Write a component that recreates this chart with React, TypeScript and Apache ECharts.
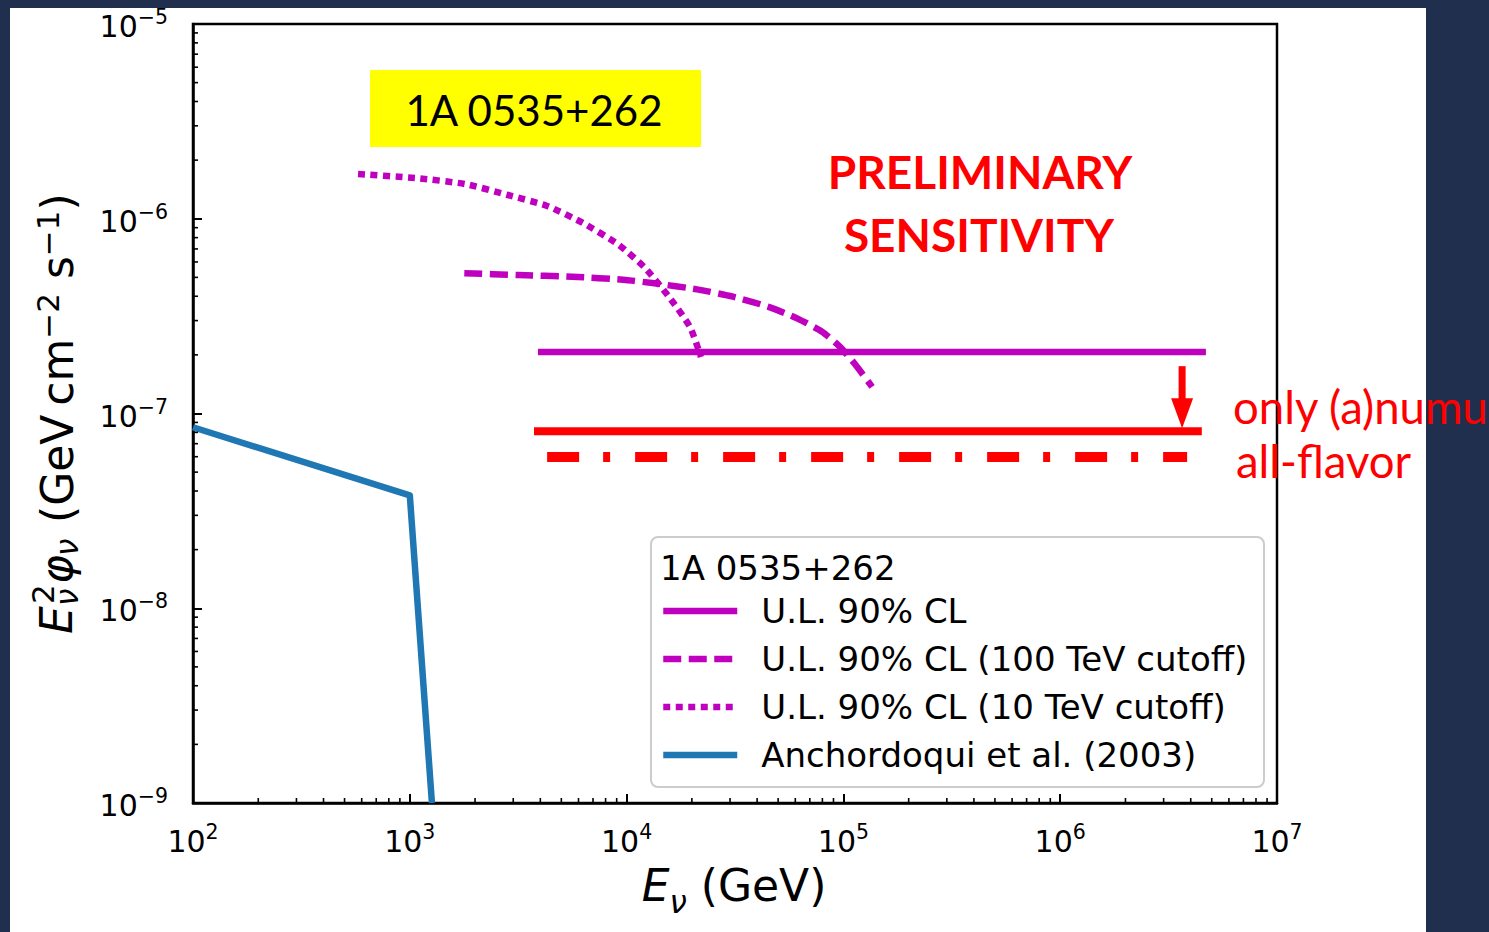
import React, { useEffect, useRef } from "react";
import * as echarts from "echarts";

// Axis ranges (GeV on x, GeV cm^-2 s^-1 on y)
const energyMin = 1e2;
const energyMax = 1e7;
const fluxMin = 1e-9;
const fluxMax = 1e-5;

// U.L. 90% CL, flat E^-2 spectrum
const ulEnergy = [3.9e3, 4.7e6];
const ulFlux = [2.07e-7, 2.07e-7];

// U.L. 90% CL with a 100 TeV cutoff
const cut100Energy = [1784, 3176, 5607, 9906, 13420, 21150, 30930, 45190, 61150, 79720, 96450, 112300, 135640];
const cut100Flux = [5.25e-7, 5.14e-7, 5.04e-7, 4.85e-7, 4.66e-7, 4.34e-7, 3.98e-7, 3.53e-7, 3.08e-7, 2.63e-7, 2.2e-7, 1.81e-7, 1.37e-7];

// U.L. 90% CL with a 10 TeV cutoff
const cut10Energy = [577, 1057, 1798, 2838, 4295, 6293, 9224, 12160, 15690, 19610, 22030];
const cut10Flux = [1.697e-6, 1.619e-6, 1.508e-6, 1.324e-6, 1.163e-6, 9.51e-7, 7.33e-7, 5.59e-7, 3.97e-7, 2.78e-7, 1.95e-7];

// Anchordoqui et al. (2003) model
const anchEnergy = [100, 1000, 1265];
const anchFlux = [8.5e-8, 3.8e-8, 1e-9];

// Preliminary sensitivities
const numuEnergy = [3.74e3, 4.5e6];
const numuFlux = [8.1e-8, 8.1e-8];
const allFlavorEnergy = [4.3e3, 3.85e6];
const allFlavorFlux = [5.98e-8, 5.98e-8];

// Arrow from the U.L. down to the numu sensitivity
const arrowEnergy = [3.65e6];
const arrowFrom = [1.75e-7];
const arrowTo = [8.4e-8];

// Decade tick exponents
const xExponents = [2, 3, 4, 5, 6, 7];
const yExponents = [-9, -8, -7, -6, -5];
const minorMantissas = [2, 3, 4, 5, 6, 7, 8, 9];

const legendNames = [
  "U.L. 90% CL",
  "U.L. 90% CL (100 TeV cutoff)",
  "U.L. 90% CL (10 TeV cutoff)",
  "Anchordoqui et al. (2003)",
];

const MAGENTA = "#bf00bf";
const BLUE = "#1f77b4";
const RED = "#ff0000";
const NAVY = "#212f4e";
const MPL_FONT = "DejaVu Sans";
const SLIDE_FONT = "Lato";

const pairs = (xs: number[], ys: number[]) => xs.map((x, i) => [x, ys[i]]);

const minorX: number[][] = [];
xExponents.slice(0, -1).forEach((e) =>
  minorMantissas.forEach((m) => minorX.push([m * Math.pow(10, e), fluxMin]))
);
const minorY: number[][] = [];
yExponents.slice(0, -1).forEach((e) =>
  minorMantissas.forEach((m) => minorY.push([energyMin, m * Math.pow(10, e)]))
);

const powerLabel = (v: number) => {
  const e = Math.round(Math.log10(v));
  const s = e < 0 ? "\u2212" + -e : String(e);
  return `{b|10}{s|${s}}`;
};

const tickRich = {
  b: { fontFamily: MPL_FONT, fontSize: 30, color: "#000", verticalAlign: "bottom" },
  s: { fontFamily: MPL_FONT, fontSize: 20.5, color: "#000", verticalAlign: "bottom", padding: [0, 0, 14, 0] },
};

const lineSeries = (name: string, data: number[][], color: string, width: number, type: any, z = 2, smooth: number | boolean = false) => ({
  name,
  type: "line",
  data,
  symbol: "none",
  showSymbol: false,
  smooth,
  clip: true,
  z,
  lineStyle: { color, width, type, cap: "butt", join: "round" },
  itemStyle: { color },
  silent: true,
});

function buildOption() {
  return {
    animation: false,
    backgroundColor: NAVY,
    grid: {
      left: 193,
      top: 24,
      width: 1084,
      height: 779,
      show: true,
      borderColor: "#000",
      borderWidth: 2.5,
      backgroundColor: "transparent",
    },
    xAxis: {
      type: "log",
      logBase: 10,
      min: energyMin,
      max: energyMax,
      interval: 1,
      axisLine: { show: true, lineStyle: { color: "#000", width: 2.5 } },
      axisTick: { show: true, inside: true, length: 9, lineStyle: { color: "#000", width: 2 } },
      splitLine: { show: false },
      axisLabel: { formatter: powerLabel, rich: tickRich, margin: 18, showMinLabel: true, showMaxLabel: true },
    },
    yAxis: {
      type: "log",
      logBase: 10,
      min: fluxMin,
      max: fluxMax,
      interval: 1,
      axisLine: { show: true, lineStyle: { color: "#000", width: 2.5 } },
      axisTick: { show: true, inside: true, length: 9, lineStyle: { color: "#000", width: 2 } },
      splitLine: { show: false },
      axisLabel: { formatter: powerLabel, rich: tickRich, margin: 25, showMinLabel: true, showMaxLabel: true },
    },
    legend: {
      orient: "vertical",
      left: 655,
      top: 587,
      itemWidth: 74,
      itemHeight: 14,
      itemGap: 10,
      selectedMode: false,
      data: legendNames,
      lineStyle: { width: "inherit" },
      itemStyle: { opacity: 0, borderWidth: 0 },
      textStyle: { fontFamily: MPL_FONT, fontSize: 34, color: "#000", lineHeight: 38, padding: [0, 0, 0, 19] },
    },
    series: [
      lineSeries(legendNames[0], pairs(ulEnergy, ulFlux), MAGENTA, 6.5, "solid"),
      lineSeries(legendNames[1], pairs(cut100Energy, cut100Flux), MAGENTA, 6.5, [18, 7.5], 2, 0.2),
      lineSeries(legendNames[2], pairs(cut10Energy, cut10Flux), MAGENTA, 6.5, [7, 5.5], 2, 0.2),
      lineSeries(legendNames[3], pairs(anchEnergy, anchFlux), BLUE, 6.5, "solid"),
      lineSeries("only (a)numu", pairs(numuEnergy, numuFlux), RED, 8, "solid", 3),
      lineSeries("all-flavor", pairs(allFlavorEnergy, allFlavorFlux), RED, 10, [32, 24, 7, 25], 3),
      {
        name: "arrow",
        type: "custom",
        silent: true,
        clip: false,
        z: 4,
        data: arrowEnergy.map((e, i) => [e, arrowFrom[i], arrowTo[i]]),
        encode: { x: 0, y: [1, 2] },
        renderItem: (_p: any, api: any) => {
          const top = api.coord([api.value(0), api.value(1)]);
          const tip = api.coord([api.value(0), api.value(2)]);
          const head = 30;
          return {
            type: "group",
            children: [
              {
                type: "line",
                shape: { x1: top[0], y1: top[1], x2: tip[0], y2: tip[1] - head + 2 },
                style: { stroke: RED, lineWidth: 7 },
              },
              {
                type: "polygon",
                shape: { points: [[tip[0] - 11, tip[1] - head], [tip[0] + 11, tip[1] - head], [tip[0], tip[1]]] },
                style: { fill: RED },
              },
            ],
          };
        },
      },
      {
        name: "minorX",
        type: "custom",
        silent: true,
        clip: false,
        z: 5,
        data: minorX,
        renderItem: (_p: any, api: any) => {
          const p = api.coord([api.value(0), api.value(1)]);
          return { type: "line", shape: { x1: p[0], y1: p[1], x2: p[0], y2: p[1] - 5 }, style: { stroke: "#000", lineWidth: 1.6 } };
        },
      },
      {
        name: "minorY",
        type: "custom",
        silent: true,
        clip: false,
        z: 5,
        data: minorY,
        renderItem: (_p: any, api: any) => {
          const p = api.coord([api.value(0), api.value(1)]);
          return { type: "line", shape: { x1: p[0], y1: p[1], x2: p[0] + 5, y2: p[1] }, style: { stroke: "#000", lineWidth: 1.6 } };
        },
      },
    ],
    graphic: {
      elements: [
        // white slide panel
        { type: "rect", z: -10, silent: true, shape: { x: 10, y: 8, width: 1416, height: 930 }, style: { fill: "#fff" } },
        // legend frame and title
        {
          type: "rect",
          z: 3,
          silent: true,
          shape: { x: 651, y: 537, width: 613, height: 250, r: 7 },
          style: { fill: "rgba(255,255,255,0.8)", stroke: "#cccccc", lineWidth: 2 },
        },
        {
          type: "text",
          z: 6,
          x: 660,
          y: 568,
          style: { text: "1A 0535+262", fontFamily: MPL_FONT, fontSize: 34, fill: "#000", align: "left", verticalAlign: "middle" },
        },
        // source name box
        { type: "rect", z: 6, silent: true, shape: { x: 370, y: 70, width: 331, height: 77 }, style: { fill: "#ffff00" } },
        {
          type: "text",
          z: 7,
          x: 534,
          y: 110,
          style: { text: "1A 0535+262", fontFamily: SLIDE_FONT, fontSize: 42, fill: "#000", align: "center", verticalAlign: "middle" },
        },
        {
          type: "text",
          z: 7,
          x: 980,
          y: 171,
          style: { text: "PRELIMINARY", fontFamily: SLIDE_FONT, fontWeight: "bold", fontSize: 46, fill: RED, align: "center", verticalAlign: "middle" },
        },
        {
          type: "text",
          z: 7,
          x: 979,
          y: 234,
          style: { text: "SENSITIVITY", fontFamily: SLIDE_FONT, fontWeight: "bold", fontSize: 46, fill: RED, align: "center", verticalAlign: "middle" },
        },
        {
          type: "text",
          z: 7,
          x: 1233,
          y: 406,
          style: { text: "only (a)numu", fontFamily: SLIDE_FONT, fontSize: 45.5, fill: RED, align: "left", verticalAlign: "middle" },
        },
        {
          type: "text",
          z: 7,
          x: 1236,
          y: 460,
          style: { text: "all-flavor", fontFamily: SLIDE_FONT, fontSize: 45.5, fill: RED, align: "left", verticalAlign: "middle" },
        },
        // x axis title
        {
          type: "text",
          z: 7,
          x: 734,
          y: 890,
          style: {
            text: "{e|E}{n|\u03bd}{t| (GeV)}",
            align: "center",
            verticalAlign: "middle",
            rich: {
              e: { fontFamily: MPL_FONT, fontStyle: "italic", fontSize: 44, fill: "#000", verticalAlign: "bottom", padding: [0, 0, 10, 0] },
              n: { fontFamily: MPL_FONT, fontStyle: "italic", fontSize: 31, fill: "#000", verticalAlign: "bottom" },
              t: { fontFamily: MPL_FONT, fontSize: 44, fill: "#000", verticalAlign: "bottom", padding: [0, 0, 10, 0] },
            },
          },
        },
        // y axis title, reading bottom to top
        {
          type: "group",
          z: 7,
          x: 56,
          y: 634,
          rotation: Math.PI / 2,
          children: [
            { type: "text", x: 0, y: 0, style: { text: "E", fontFamily: MPL_FONT, fontStyle: "italic", fontSize: 44, fill: "#000", align: "left", verticalAlign: "middle" } },
            { type: "text", x: 30, y: -13, style: { text: "2", fontFamily: MPL_FONT, fontSize: 31, fill: "#000", align: "left", verticalAlign: "middle" } },
            { type: "text", x: 28, y: 11, style: { text: "\u03bd", fontFamily: MPL_FONT, fontStyle: "italic", fontSize: 31, fill: "#000", align: "left", verticalAlign: "middle" } },
            { type: "text", x: 50, y: 0, style: { text: "\u03c6", fontFamily: MPL_FONT, fontStyle: "italic", fontSize: 44, fill: "#000", align: "left", verticalAlign: "middle" } },
            { type: "text", x: 78, y: 11, style: { text: "\u03bd", fontFamily: MPL_FONT, fontStyle: "italic", fontSize: 31, fill: "#000", align: "left", verticalAlign: "middle" } },
            {
              type: "text",
              x: 97,
              y: 0,
              style: {
                text: "{t| (GeV\u2009cm}{s|\u22122}{t| s}{s|\u22121}{t|)}",
                align: "left",
                verticalAlign: "middle",
                rich: {
                  t: { fontFamily: MPL_FONT, fontSize: 44, fill: "#000", verticalAlign: "bottom" },
                  s: { fontFamily: MPL_FONT, fontSize: 31, fill: "#000", verticalAlign: "bottom", padding: [0, 0, 16, 0] },
                },
              },
            },
          ],
        },
      ],
    },
  };
}

export default function App() {
  const ref = useRef<HTMLDivElement>(null);
  useEffect(() => {
    if (!ref.current) return;
    const chart = echarts.init(ref.current, undefined, { renderer: "svg" });
    chart.setOption(buildOption() as any);
    return () => chart.dispose();
  }, []);
  return <div ref={ref} style={{ position: "fixed", left: 0, top: 0, width: 1489, height: 932 }} />;
}
